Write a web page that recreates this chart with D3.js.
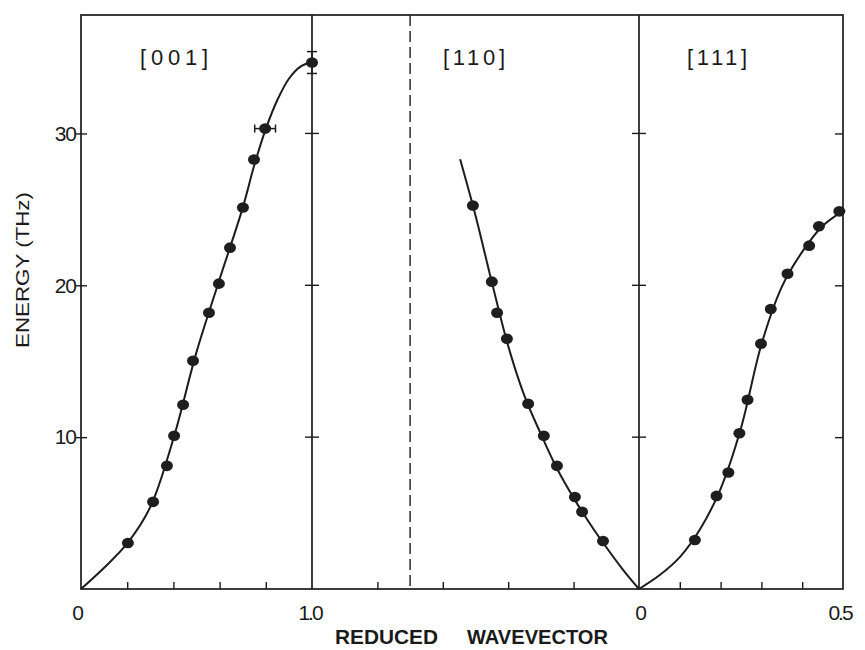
<!DOCTYPE html>
<html><head><meta charset="utf-8">
<script src="https://cdn.jsdelivr.net/npm/d3@7"></script>
<style>
html,body{margin:0;padding:0;background:#fff;}
text{font-family:"Liberation Sans","DejaVu Sans",sans-serif;fill:#1a1a1a;}
</style></head>
<body><svg id="c" width="865" height="650"></svg>
<script>
// ---- data ----
const panels = ["[001]", "[110]", "[111]"];
const yTicks = [10, 20, 30];
const yTickLabels = ["10", "20", "30"];
const xEdgeLabels = ["0", "1.0", "0", "0.5"];
const xTitleWords = ["REDUCED", "WAVEVECTOR"];
const tick001 = [0.2, 0.4, 0.6, 0.8];
const tick110 = [0.2, 0.4, 0.6, 0.8];
const tick111 = [0.1, 0.2, 0.3, 0.4];
const zoneBoundary110 = 0.70;

// [001] measured points
const q001 = [0.203, 0.312, 0.372, 0.403, 0.442, 0.485, 0.554, 0.597, 0.645, 0.701, 0.749, 0.797, 1.0];
const e001 = [3.03, 5.74, 8.11, 10.09, 12.13, 15.03, 18.19, 20.11, 22.48, 25.12, 28.28, 30.32, 34.67];
const qErr001 = [0, 0, 0, 0, 0, 0, 0, 0, 0, 0, 0, 0.045, 0];
const eErr001 = [0, 0, 0, 0, 0, 0, 0, 0, 0, 0, 0, 0, 0.72];
// [001] fitted curve
const cq001 = [0, 0.1, 0.2, 0.3, 0.4, 0.5, 0.6, 0.7, 0.75, 0.8, 0.85, 0.9, 0.95, 1.0];
const ce001 = [0, 1.4, 3.0, 5.4, 9.9, 15.6, 20.4, 25.1, 27.9, 30.3, 32.2, 33.6, 34.4, 34.7];

// [110] measured points
const q110 = [0.508, 0.450, 0.434, 0.404, 0.339, 0.291, 0.251, 0.196, 0.174, 0.110];
const e110 = [25.25, 20.24, 18.19, 16.48, 12.2, 10.09, 8.11, 6.06, 5.08, 3.16];
// [110] fitted curve
const cq110 = [0, 0.05, 0.1, 0.15, 0.2, 0.25, 0.3, 0.35, 0.4, 0.45, 0.5, 0.547];
const ce110 = [0, 1.3, 2.75, 4.3, 6.0, 7.9, 10.2, 12.7, 16.0, 20.2, 24.6, 28.3];

// [111] measured points
const q111 = [0.137, 0.190, 0.219, 0.246, 0.266, 0.299, 0.323, 0.364, 0.417, 0.441, 0.491];
const e111 = [3.23, 6.13, 7.67, 10.26, 12.46, 16.15, 18.44, 20.76, 22.61, 23.89, 24.87];
// [111] fitted curve
const cq111 = [0, 0.05, 0.1, 0.15, 0.2, 0.25, 0.3, 0.35, 0.4, 0.45, 0.5];
const ce111 = [0, 0.9, 2.1, 3.95, 6.6, 10.6, 16.1, 19.9, 22.2, 23.9, 24.9];

(function () {
// ---- layout ----
const svg = d3.select("#c");
const ink = "#1c1c1c";
const y = d3.scaleLinear().domain([0, 37.8]).range([589, 15]);
const x001 = d3.scaleLinear().domain([0, 1]).range([81, 312]);
const x110 = d3.scaleLinear().domain([0, 1]).range([639, 312]);
const x111 = d3.scaleLinear().domain([0, 0.5]).range([639, 843]);
const yTop = y.range()[1], yBot = y.range()[0];
const xLeft = x001.range()[0], xRight = x111.range()[1];

const g = svg.append("g");

// frame
g.append("rect").attr("x", xLeft).attr("y", yTop).attr("width", xRight - xLeft).attr("height", yBot - yTop)
  .attr("fill", "none").attr("stroke", ink).attr("stroke-width", 1.7);

// dividers
[x001(1), x110(0)].forEach(xv => {
  g.append("line").attr("x1", xv).attr("x2", xv).attr("y1", yTop).attr("y2", yBot)
    .attr("stroke", ink).attr("stroke-width", 1.7);
  g.selectAll(null).data(yTicks).enter().append("line")
    .attr("x1", xv - 7).attr("x2", xv + 7).attr("y1", d => y(d)).attr("y2", d => y(d))
    .attr("stroke", ink).attr("stroke-width", 1.4);
});

// dashed zone boundary
g.append("line").attr("x1", x110(zoneBoundary110)).attr("x2", x110(zoneBoundary110))
  .attr("y1", yTop).attr("y2", yBot).attr("stroke", ink).attr("stroke-width", 1.4)
  .attr("stroke-dasharray", "11,5");

// left axis
const yAxis = d3.axisLeft(y).tickValues(yTicks).tickFormat((d, i) => yTickLabels[i])
  .tickSizeInner(6).tickSizeOuter(0).tickPadding(4);
const ya = g.append("g").attr("transform", `translate(${xLeft},0)`).call(yAxis);
ya.select(".domain").remove();
ya.selectAll(".tick line").attr("x2", 6).attr("x1", -5).attr("stroke", ink).attr("stroke-width", 1.4);
ya.selectAll(".tick text").attr("x", -5).style("font-size", "21px").style("letter-spacing", "-1px")
  .style("font-family", "Liberation Sans, sans-serif").attr("fill", ink);

// right axis ticks (inward)
const yr = g.append("g").attr("transform", `translate(${xRight},0)`)
  .call(d3.axisLeft(y).tickValues(yTicks).tickFormat("").tickSizeInner(8).tickSizeOuter(0));
yr.select(".domain").remove();
yr.selectAll(".tick line").attr("stroke", ink).attr("stroke-width", 1.4);

// bottom ticks (inward)
[[x001, tick001], [x110, tick110], [x111, tick111]].forEach(([sc, tv]) => {
  const a = g.append("g").attr("transform", `translate(0,${yBot})`)
    .call(d3.axisBottom(sc).tickValues(tv).tickFormat("").tickSizeInner(-7).tickSizeOuter(0));
  a.select(".domain").remove();
  a.selectAll(".tick line").attr("stroke", ink).attr("stroke-width", 1.4);
});

// edge labels
const edgeX = [x001(0) - 4, x001(1) - 2, x110(0) + 1, x111(0.5) - 3];
g.selectAll(null).data(xEdgeLabels).enter().append("text")
  .attr("x", (d, i) => edgeX[i]).attr("y", 620)
  .attr("text-anchor", "middle").style("font-size", "21px").style("letter-spacing", "-2px")
  .text(d => d);

// axis titles
const titleX = [386.5, 537.5], titleW = [103, 141];
g.selectAll(null).data(xTitleWords).enter().append("text")
  .attr("x", (d, i) => titleX[i]).attr("y", 644).attr("text-anchor", "middle")
  .style("font-size", "20px").style("font-weight", "bold")
  .attr("textLength", (d, i) => titleW[i]).attr("lengthAdjust", "spacingAndGlyphs")
  .text(d => d);
g.append("text").attr("transform", "translate(29,270) rotate(-90)").attr("text-anchor", "middle")
  .style("font-size", "19px").attr("textLength", 156).attr("lengthAdjust", "spacingAndGlyphs")
  .text("ENERGY (THz)");

// panel labels
const labelX = [174, 474, 717], labelW = [68, 62, 60];
g.selectAll(null).data(panels).enter().append("text")
  .attr("x", (d, i) => labelX[i]).attr("y", 65).attr("text-anchor", "middle")
  .style("font-size", "22px").attr("textLength", (d, i) => labelW[i]).attr("lengthAdjust", "spacing")
  .text(d => d);

// curves
const line = sc => d3.line().x(d => sc(d[0])).y(d => y(d[1])).curve(d3.curveCatmullRom.alpha(0.5));
const curves = [[x001, cq001, ce001], [x110, cq110, ce110], [x111, cq111, ce111]];
curves.forEach(([sc, qs, es]) => {
  g.append("path").datum(qs.map((q, i) => [q, es[i]])).attr("d", line(sc))
    .attr("fill", "none").attr("stroke", ink).attr("stroke-width", 2);
});

// error bars for [001]
const errs = q001.map((q, i) => ({q, e: e001[i], dq: qErr001[i], de: eErr001[i]}));
errs.filter(d => d.dq > 0).forEach(d => {
  g.append("line").attr("x1", x001(d.q - d.dq)).attr("x2", x001(d.q + d.dq))
    .attr("y1", y(d.e)).attr("y2", y(d.e)).attr("stroke", ink).attr("stroke-width", 1.5);
  [d.q - d.dq, d.q + d.dq].forEach(v => g.append("line").attr("x1", x001(v)).attr("x2", x001(v))
    .attr("y1", y(d.e) - 4).attr("y2", y(d.e) + 4).attr("stroke", ink).attr("stroke-width", 1.5));
});
errs.filter(d => d.de > 0).forEach(d => {
  g.append("line").attr("x1", x001(d.q)).attr("x2", x001(d.q))
    .attr("y1", y(d.e - d.de)).attr("y2", y(d.e + d.de)).attr("stroke", ink).attr("stroke-width", 1.5);
  [d.e - d.de, d.e + d.de].forEach(v => g.append("line").attr("x1", x001(d.q) - 5).attr("x2", x001(d.q) + 5)
    .attr("y1", y(v)).attr("y2", y(v)).attr("stroke", ink).attr("stroke-width", 1.5));
});

// points
const pts = [[x001, q001, e001], [x110, q110, e110], [x111, q111, e111]];
pts.forEach(([sc, qs, es]) => {
  g.selectAll(null).data(qs.map((q, i) => [q, es[i]])).enter().append("ellipse")
    .attr("cx", d => sc(d[0])).attr("cy", d => y(d[1])).attr("rx", 6).attr("ry", 5.3)
    .attr("fill", "#1e1e1e");
});
})();
</script></body></html>
